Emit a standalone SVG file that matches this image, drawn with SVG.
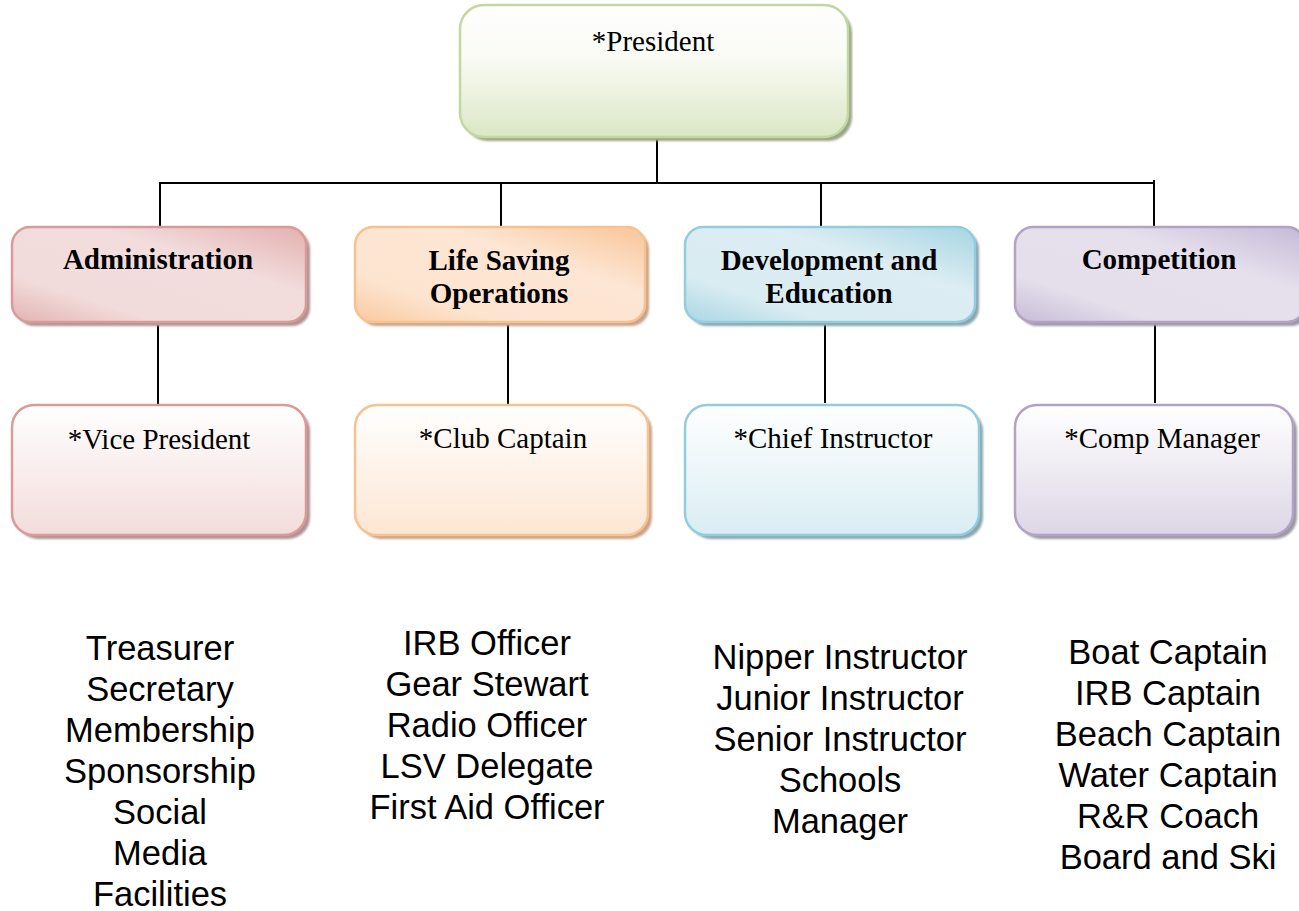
<svg xmlns="http://www.w3.org/2000/svg" width="1299" height="911" viewBox="0 0 1299 911">
<style>
.lbl{font-family:"Liberation Serif","Times New Roman",serif;font-size:29px;fill:#000;text-anchor:middle}
.b{font-weight:bold}
.list{font-family:"Liberation Sans",Arial,sans-serif;font-size:34.5px;fill:#000;text-anchor:middle}
.con{stroke:#000;stroke-width:2;fill:none}
</style>
<defs>
<filter id="sh" x="-10%" y="-10%" width="120%" height="130%"><feGaussianBlur stdDeviation="1.2"/></filter>
<linearGradient id="gGreen" x1="0" y1="0" x2="0" y2="1"><stop offset="0" stop-color="#ffffff"/><stop offset="0.4" stop-color="#f9fbf4"/><stop offset="1" stop-color="#dbe7c5"/></linearGradient>
<linearGradient id="gPinkH" x1="1" y1="0" x2="0" y2="1"><stop offset="0" stop-color="#e3b0af"/><stop offset="0.35" stop-color="#f2dcdc"/><stop offset="0.75" stop-color="#f2dcdb"/><stop offset="1" stop-color="#e2b3b2"/></linearGradient>
<linearGradient id="gPinkV" x1="0" y1="0" x2="0" y2="1"><stop offset="0" stop-color="#ffffff"/><stop offset="1" stop-color="#f2dcdb"/></linearGradient>
<linearGradient id="gOrH" x1="1" y1="0" x2="0" y2="1"><stop offset="0" stop-color="#f9c598"/><stop offset="0.35" stop-color="#fde6d4"/><stop offset="0.75" stop-color="#fde4cf"/><stop offset="1" stop-color="#f9c9a0"/></linearGradient>
<linearGradient id="gOrV" x1="0" y1="0" x2="0" y2="1"><stop offset="0" stop-color="#ffffff"/><stop offset="1" stop-color="#fde6d3"/></linearGradient>
<linearGradient id="gBlH" x1="1" y1="0" x2="0" y2="1"><stop offset="0" stop-color="#a6d5e2"/><stop offset="0.35" stop-color="#dcedf3"/><stop offset="0.75" stop-color="#d9ecf2"/><stop offset="1" stop-color="#a9d6e3"/></linearGradient>
<linearGradient id="gBlV" x1="0" y1="0" x2="0" y2="1"><stop offset="0" stop-color="#ffffff"/><stop offset="1" stop-color="#d9edf3"/></linearGradient>
<linearGradient id="gPuH" x1="1" y1="0" x2="0" y2="1"><stop offset="0" stop-color="#c5b9d6"/><stop offset="0.35" stop-color="#e6e0ed"/><stop offset="0.75" stop-color="#e4dfeb"/><stop offset="1" stop-color="#c7bbd7"/></linearGradient>
<linearGradient id="gPuV" x1="0" y1="0" x2="0" y2="1"><stop offset="0" stop-color="#ffffff"/><stop offset="1" stop-color="#ddd6e6"/></linearGradient>
</defs>
<rect width="1299" height="911" fill="#ffffff"/>

<g id="connectors">
<line class="con" x1="657" y1="137" x2="657" y2="183"/>
<line class="con" x1="159" y1="183" x2="1155" y2="183"/>
<line class="con" x1="160" y1="183" x2="160" y2="226"/>
<line class="con" x1="501" y1="183" x2="501" y2="226"/>
<line class="con" x1="821" y1="183" x2="821" y2="226"/>
<line class="con" x1="1154" y1="180" x2="1154" y2="226"/>
<line class="con" x1="158" y1="325" x2="158" y2="404"/>
<line class="con" x1="508" y1="325" x2="508" y2="406"/>
<line class="con" x1="825" y1="325" x2="825" y2="403"/>
<line class="con" x1="1155" y1="325" x2="1155" y2="403"/>
</g>

<g id="president">
<rect x="464" y="9" width="388" height="132" rx="24" fill="#9aa58a" filter="url(#sh)"/>
<rect x="460" y="5" width="388" height="132" rx="24" fill="url(#gGreen)" stroke="#c4d79f" stroke-width="2.5"/>
<text class="lbl" x="653" y="51">*President</text>
</g>

<g id="administration">
<rect x="16" y="231" width="294" height="95" rx="18" fill="#b09393" filter="url(#sh)"/>
<rect x="12" y="227" width="294" height="95" rx="18" fill="url(#gPinkH)" stroke="#d99a98" stroke-width="2.5"/>
<text class="lbl b" x="158" y="269">Administration</text>
</g>
<g id="vice-president">
<rect x="16" y="409" width="294" height="130" rx="22" fill="#b09393" filter="url(#sh)"/>
<rect x="12" y="405" width="294" height="130" rx="22" fill="url(#gPinkV)" stroke="#d99a98" stroke-width="2.5"/>
<text class="lbl" x="159" y="449">*Vice President</text>
</g>

<g id="life-saving">
<rect x="359" y="231" width="290" height="95" rx="18" fill="#c9a488" filter="url(#sh)"/>
<rect x="355" y="227" width="290" height="95" rx="18" fill="url(#gOrH)" stroke="#f9c18f" stroke-width="2.5"/>
<text class="lbl b" x="499" y="270">Life Saving</text>
<text class="lbl b" x="499" y="303">Operations</text>
</g>
<g id="club-captain">
<rect x="359" y="409" width="293" height="130" rx="22" fill="#c9a488" filter="url(#sh)"/>
<rect x="355" y="405" width="293" height="130" rx="22" fill="url(#gOrV)" stroke="#f9c18f" stroke-width="2.5"/>
<text class="lbl" x="503" y="448">*Club Captain</text>
</g>

<g id="development">
<rect x="689" y="231" width="290" height="95" rx="18" fill="#8aa6ae" filter="url(#sh)"/>
<rect x="685" y="227" width="290" height="95" rx="18" fill="url(#gBlH)" stroke="#93cddd" stroke-width="2.5"/>
<text class="lbl b" x="829" y="270">Development and</text>
<text class="lbl b" x="829" y="303">Education</text>
</g>
<g id="chief-instructor">
<rect x="689" y="409" width="294" height="130" rx="22" fill="#8aa6ae" filter="url(#sh)"/>
<rect x="685" y="405" width="294" height="130" rx="22" fill="url(#gBlV)" stroke="#93cddd" stroke-width="2.5"/>
<text class="lbl" x="833" y="448">*Chief Instructor</text>
</g>

<g id="competition">
<rect x="1019" y="231" width="290" height="95" rx="18" fill="#9c98a2" filter="url(#sh)"/>
<rect x="1015" y="227" width="290" height="95" rx="18" fill="url(#gPuH)" stroke="#b3a2c7" stroke-width="2.5"/>
<text class="lbl b" x="1159" y="269">Competition</text>
</g>
<g id="comp-manager">
<rect x="1019" y="409" width="278" height="130" rx="22" fill="#9c98a2" filter="url(#sh)"/>
<rect x="1015" y="405" width="278" height="130" rx="22" fill="url(#gPuV)" stroke="#b3a2c7" stroke-width="2.5"/>
<text class="lbl" x="1162" y="448">*Comp Manager</text>
</g>

<g id="admin-roles">
<text class="list" x="160" y="660">Treasurer</text>
<text class="list" x="160" y="701">Secretary</text>
<text class="list" x="160" y="742">Membership</text>
<text class="list" x="160" y="783">Sponsorship</text>
<text class="list" x="160" y="824">Social</text>
<text class="list" x="160" y="865">Media</text>
<text class="list" x="160" y="906">Facilities</text>
</g>
<g id="lso-roles">
<text class="list" x="487" y="655">IRB Officer</text>
<text class="list" x="487" y="696">Gear Stewart</text>
<text class="list" x="487" y="737">Radio Officer</text>
<text class="list" x="487" y="778">LSV Delegate</text>
<text class="list" x="487" y="819">First Aid Officer</text>
</g>
<g id="dev-roles">
<text class="list" x="840" y="669">Nipper Instructor</text>
<text class="list" x="840" y="710">Junior Instructor</text>
<text class="list" x="840" y="751">Senior Instructor</text>
<text class="list" x="840" y="792">Schools</text>
<text class="list" x="840" y="833">Manager</text>
</g>
<g id="comp-roles">
<text class="list" x="1168" y="664">Boat Captain</text>
<text class="list" x="1168" y="705">IRB Captain</text>
<text class="list" x="1168" y="746">Beach Captain</text>
<text class="list" x="1168" y="787">Water Captain</text>
<text class="list" x="1168" y="828">R&amp;R Coach</text>
<text class="list" x="1168" y="869">Board and Ski</text>
</g>
</svg>
